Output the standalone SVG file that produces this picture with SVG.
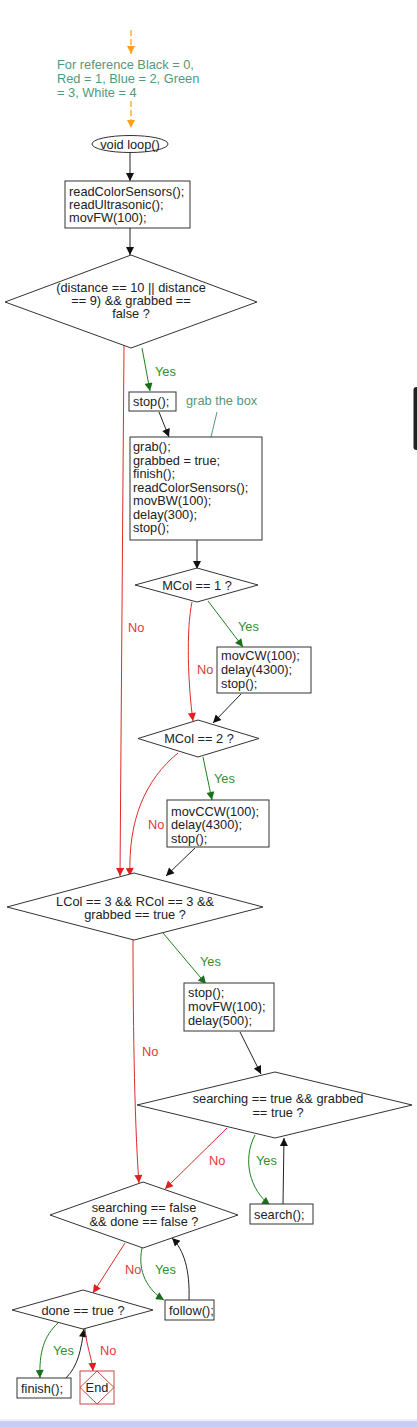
<svg xmlns="http://www.w3.org/2000/svg" width="417" height="1427" viewBox="0 0 417 1427">
<style>
text{font-family:"Liberation Sans",Arial,sans-serif;font-size:12.8px;fill:#222}
.c{text-anchor:middle}
.node{fill:#fff;stroke:#333;stroke-width:1}
.cm{fill:#4f9a7c}
.yt{fill:#2f8f2f}
.nt{fill:#e03a3a}
.e{fill:none;stroke:#222;stroke-width:1}
.y{fill:none;stroke:#1f7f1f;stroke-width:1}
.n{fill:none;stroke:#e02a2a;stroke-width:1}
.o{fill:none;stroke:#ffa21a;stroke-width:1.3;stroke-dasharray:6,3}
</style>
<defs>
<marker id="ak" viewBox="0 0 10 10" refX="10" refY="5" markerWidth="10" markerHeight="8" markerUnits="userSpaceOnUse" orient="auto"><path d="M0,0L10,5L0,10z" fill="#111"/></marker>
<marker id="ag" viewBox="0 0 10 10" refX="10" refY="5" markerWidth="10" markerHeight="8" markerUnits="userSpaceOnUse" orient="auto"><path d="M0,0L10,5L0,10z" fill="#1a701a"/></marker>
<marker id="ar" viewBox="0 0 10 10" refX="10" refY="5" markerWidth="10" markerHeight="8" markerUnits="userSpaceOnUse" orient="auto"><path d="M0,0L10,5L0,10z" fill="#e02020"/></marker>
<marker id="ao" viewBox="0 0 10 10" refX="10" refY="5" markerWidth="11" markerHeight="8" markerUnits="userSpaceOnUse" orient="auto"><path d="M0,0L10,5L0,10z" fill="#ffa21a"/></marker>
</defs>
<rect width="417" height="1427" fill="#fff"/>

<g id="connectors">
<path class="o" d="M131,30L131,54" marker-end="url(#ao)"/>
<path class="o" d="M131,101L131,128" marker-end="url(#ao)"/>
<path class="e" d="M130,153L130,181" marker-end="url(#ak)"/>
<path class="e" d="M130,228L130,255" marker-end="url(#ak)"/>
<path class="y" d="M142,348L150,391" marker-end="url(#ag)"/>
<text class="yt" x="155" y="376">Yes</text>
<path class="n" d="M124,345L120,876" marker-end="url(#ar)"/>
<text class="nt" x="128" y="632">No</text>
<path class="e" d="M159,412L169,437" marker-end="url(#ak)"/>
<path fill="none" stroke="#4f9a7c" stroke-width="1" d="M217,412L211,437"/>
<path class="e" d="M197,540L197,569" marker-end="url(#ak)"/>
<path class="y" d="M208,601L243,647" marker-end="url(#ag)"/>
<text class="yt" x="238" y="631">Yes</text>
<path class="n" d="M192,602C186,630 188,685 193,721" marker-end="url(#ar)"/>
<text class="nt" x="197" y="674">No</text>
<path class="e" d="M241,694L213,723" marker-end="url(#ak)"/>
<path class="y" d="M203,757L212,800" marker-end="url(#ag)"/>
<text class="yt" x="214" y="783">Yes</text>
<path class="n" d="M178,753C145,780 128,820 130,876" marker-end="url(#ar)"/>
<text class="nt" x="148" y="829">No</text>
<path class="e" d="M195,848L166,876" marker-end="url(#ak)"/>
<path class="y" d="M163,933L206,984" marker-end="url(#ag)"/>
<text class="yt" x="200" y="966">Yes</text>
<path class="n" d="M133,940C133,1000 134,1120 139,1183" marker-end="url(#ar)"/>
<text class="nt" x="142" y="1056">No</text>
<path class="e" d="M240,1032L261,1074" marker-end="url(#ak)"/>
<path class="n" d="M227,1128L165,1189" marker-end="url(#ar)"/>
<text class="nt" x="209" y="1165">No</text>
<path class="y" d="M255,1135C242,1160 250,1190 270,1205" marker-end="url(#ag)"/>
<text class="yt" x="256" y="1165">Yes</text>
<path class="e" d="M283,1204L284,1138" marker-end="url(#ak)"/>
<path class="n" d="M125,1243L93,1293" marker-end="url(#ar)"/>
<text class="nt" x="125" y="1274">No</text>
<path class="y" d="M142,1248C137,1272 148,1290 164,1300" marker-end="url(#ag)"/>
<text class="yt" x="155" y="1274">Yes</text>
<path class="e" d="M189,1300C190,1270 184,1250 172,1238" marker-end="url(#ak)"/>
<path class="y" d="M58,1323C44,1336 39,1352 40,1378" marker-end="url(#ag)"/>
<text class="yt" x="53" y="1355">Yes</text>
<path class="e" d="M66,1378C78,1366 81,1350 84,1329" marker-end="url(#ak)"/>
<path class="n" d="M85,1328C86,1345 92,1358 93,1371" marker-end="url(#ar)"/>
<text class="nt" x="100" y="1355">No</text>
</g>

<g id="comment">
<text class="cm" x="57" y="69">For reference Black = 0,</text>
<text class="cm" x="57" y="83">Red = 1, Blue = 2, Green</text>
<text class="cm" x="57" y="97">= 3, White = 4</text>
</g>

<g id="start">
<ellipse class="node" cx="130" cy="144" rx="38" ry="8.5"/>
<text class="c" x="130" y="148.5">void loop()</text>
</g>

<g id="read">
<rect class="node" x="65" y="181" width="125" height="47"/>
<text x="69" y="196">readColorSensors();</text>
<text x="69" y="209">readUltrasonic();</text>
<text x="69" y="222">movFW(100);</text>
</g>

<g id="dist">
<polygon class="node" points="131,255 257,302 131,348 5,302"/>
<text class="c" x="131" y="292">(distance == 10 || distance</text>
<text class="c" x="131" y="305">== 9) &amp;&amp; grabbed ==</text>
<text class="c" x="131" y="318">false ?</text>
</g>

<g id="stop1">
<rect class="node" x="129" y="392" width="47" height="19"/>
<text x="133" y="406">stop();</text>
</g>

<g id="grabnote">
<text class="cm" x="186" y="405">grab the box</text>
</g>

<g id="grab">
<rect class="node" x="130" y="437" width="132" height="103"/>
<text x="133" y="451">grab();</text>
<text x="133" y="464.5">grabbed = true;</text>
<text x="133" y="478">finish();</text>
<text x="133" y="491.5">readColorSensors();</text>
<text x="133" y="505">movBW(100);</text>
<text x="133" y="518.5">delay(300);</text>
<text x="133" y="532">stop();</text>
</g>

<g id="mcol1">
<polygon class="node" points="197,568 258,585 197,602 135,585"/>
<text class="c" x="197" y="589.5">MCol == 1 ?</text>
</g>

<g id="cw">
<rect class="node" x="217" y="647" width="94" height="46"/>
<text x="221" y="660">movCW(100);</text>
<text x="221" y="674">delay(4300);</text>
<text x="221" y="688">stop();</text>
</g>

<g id="mcol2">
<polygon class="node" points="198,720 259,738.5 198,757 138,738.5"/>
<text class="c" x="199" y="743">MCol == 2 ?</text>
</g>

<g id="ccw">
<rect class="node" x="167" y="800" width="102" height="47"/>
<text x="171" y="816">movCCW(100);</text>
<text x="171" y="829">delay(4300);</text>
<text x="171" y="843">stop();</text>
</g>

<g id="lcol">
<polygon class="node" points="134,873 263,907 134,940 7,907"/>
<text class="c" x="135" y="906">LCol == 3 &amp;&amp; RCol == 3 &amp;&amp;</text>
<text class="c" x="135" y="919">grabbed == true ?</text>
</g>

<g id="fw">
<rect class="node" x="184" y="983" width="90" height="48"/>
<text x="188" y="997">stop();</text>
<text x="188" y="1011">movFW(100);</text>
<text x="188" y="1025">delay(500);</text>
</g>

<g id="searchq">
<polygon class="node" points="275,1072 412,1105 275,1138 137,1105"/>
<text class="c" x="278" y="1103">searching == true &amp;&amp; grabbed</text>
<text class="c" x="278" y="1117">== true ?</text>
</g>

<g id="search">
<rect class="node" x="250" y="1204" width="63" height="20"/>
<text x="254" y="1219">search();</text>
</g>

<g id="followq">
<polygon class="node" points="143,1182 238,1215 143,1248 50,1215"/>
<text class="c" x="144" y="1212">searching == false</text>
<text class="c" x="144" y="1226">&amp;&amp; done == false ?</text>
</g>

<g id="follow">
<rect class="node" x="165" y="1300" width="49" height="20"/>
<text x="169" y="1315">follow();</text>
</g>

<g id="doneq">
<polygon class="node" points="83,1290 153,1310 83,1329 12,1310"/>
<text class="c" x="83" y="1314.5">done == true ?</text>
</g>

<g id="finish">
<rect class="node" x="17" y="1378" width="54" height="20"/>
<text x="21" y="1393">finish();</text>
</g>

<g id="end">
<rect x="80" y="1371" width="34" height="33" fill="#fff" stroke="#c94545" stroke-width="1"/>
<polygon points="97,1371 114,1387.5 97,1404 80,1387.5" fill="none" stroke="#c94545" stroke-width="1"/>
<text class="c" x="97" y="1392">End</text>
</g>

<rect x="413.5" y="387" width="6" height="63" rx="3" fill="#222"/>
<rect x="0" y="1419.5" width="417" height="1" fill="#e2e2ea"/>
<rect x="0" y="1421" width="417" height="6" fill="#c8cdf7"/>
</svg>
